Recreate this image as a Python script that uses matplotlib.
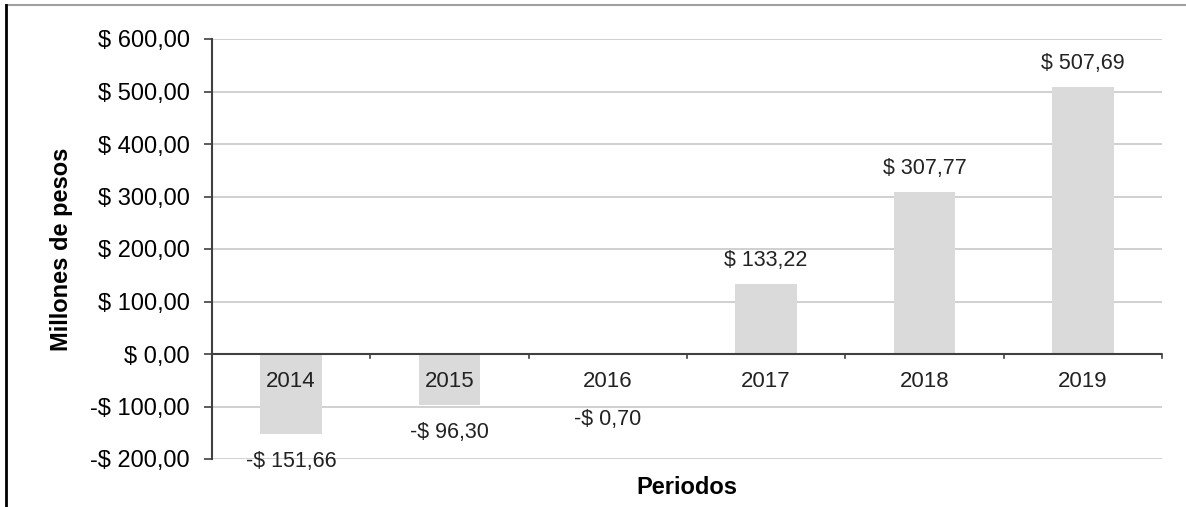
import matplotlib.pyplot as plt
from matplotlib.lines import Line2D

plt.rcParams['font.family'] = ['Liberation Sans', 'DejaVu Sans']

# datos
periodos = ['2014', '2015', '2016', '2017', '2018', '2019']
valores = [-151.66, -96.30, -0.70, 133.22, 307.77, 507.69]
etiquetas = ['-$ 151,66', '-$ 96,30', '-$ 0,70', '$ 133,22', '$ 307,77', '$ 507,69']
yticks = [600, 500, 400, 300, 200, 100, 0, -100, -200]


def fmt_peso(v):
    s = '$ %.2f' % abs(v)
    s = s.replace('.', ',')
    return '-' + s if v < 0 else s


fig = plt.figure(figsize=(11.86, 5.07), dpi=100)
ax = fig.add_axes([212 / 1186, 1 - 459 / 507, 950 / 1186, 420 / 507])

x = range(len(periodos))
ax.bar(x, valores, width=0.39, color='#dadada', zorder=2)

ax.set_xlim(-0.5, len(periodos) - 0.5)
ax.set_ylim(-200, 600)
ax.set_yticks(yticks)
ax.set_yticklabels([fmt_peso(v) for v in yticks], fontsize=17)
ax.yaxis.grid(True, color='#c8c8c8', linewidth=1.2, zorder=0)
ax.set_axisbelow(True)

# eje x en cero, ticks entre categorias
ax.set_xticks([])
ax.axhline(0, color='#404040', linewidth=1.5, zorder=3)
for b in [i - 0.5 for i in range(len(periodos) + 1)]:
    ax.plot([b, b], [0, -8], color='#404040', linewidth=1.2, zorder=3, clip_on=False)
for i, p in enumerate(periodos):
    ax.text(i, -52, p, ha='center', va='center', fontsize=16, color='#222222', zorder=4)

# etiquetas de valores
for i, (v, t) in enumerate(zip(valores, etiquetas)):
    if v >= 0:
        ax.annotate(t, (i, v), xytext=(0, 17), textcoords='offset points',
                    ha='center', va='center', fontsize=15.5, color='#222222')
    else:
        off = -20 if v < -10 else -47
        ax.annotate(t, (i, v), xytext=(0, off), textcoords='offset points',
                    ha='center', va='center', fontsize=15.5, color='#222222')

for s in ['top', 'right', 'bottom']:
    ax.spines[s].set_visible(False)
ax.spines['left'].set_color('#404040')
ax.spines['left'].set_linewidth(1.5)
ax.tick_params(axis='y', length=6, width=1.2, color='#404040', pad=10)

ax.set_ylabel('Millones de pesos', fontsize=17, fontweight='bold', labelpad=12)
ax.set_xlabel('Periodos', fontsize=17, fontweight='bold', labelpad=12)

# marco exterior
fig.add_artist(Line2D([6 / 1186, 1], [1 - 5 / 507, 1 - 5 / 507], color='#a0a0a0', linewidth=1.5))
fig.add_artist(Line2D([6 / 1186, 6 / 1186], [0, 1 - 5 / 507], color='black', linewidth=2))

fig.savefig('out.png', dpi=100)
